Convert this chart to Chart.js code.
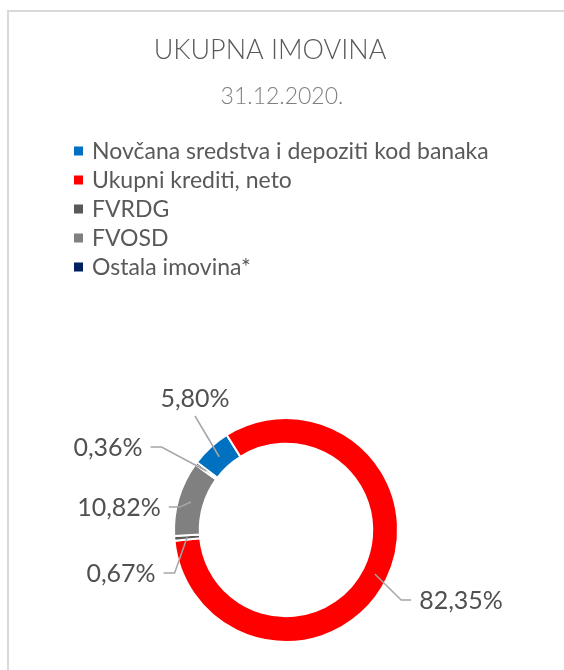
<!DOCTYPE html>
<html>
<head>
<meta charset="utf-8">
<script src="https://cdn.jsdelivr.net/npm/chart.js@4"></script>
<style>
  html, body { margin: 0; padding: 0; background: #fff; }
  #wrap { position: relative; width: 564px; height: 670px; overflow: hidden; }
  #frame { position: absolute; left: 7px; top: 10px; right: -10px; bottom: -10px;
           border-top: 2px solid #d9d9d9; border-left: 2px solid #d9d9d9; }
  canvas { position: absolute; left: 0; top: 0; }
</style>
</head>
<body>
<div id="wrap">
  <div id="frame"></div>
  <canvas id="assetChart" width="564" height="670"></canvas>
</div>
<script>
document.addEventListener('DOMContentLoaded', function () {

const chartTitle = 'UKUPNA IMOVINA';
const chartSubtitle = '31.12.2020.';
const categories = [
    'Novčana sredstva i depoziti kod banaka',
    'Ukupni krediti, neto',
    'FVRDG',
    'FVOSD',
    'Ostala imovina*'
];
const shares = [5.80, 82.35, 0.67, 10.82, 0.36];
const sliceColors = ['#0070C0', '#FF0000', '#595959', '#808080', '#002060'];

// where each percentage label sits, relative to the doughnut centre (slice order)
const labelSpots = [
    { dx: -91, dy: -132, side: 'bottom' },
    { dx: 175, dy: 70, side: 'left' },
    { dx: -165, dy: 43, side: 'right' },
    { dx: -167, dy: -23, side: 'right' },
    { dx: -178, dy: -83, side: 'right' }
];

const FONT = 'Lato, "Open Sans", sans-serif';

function formatShare(v) {
    return v.toFixed(2).replace('.', ',') + '%';
}

// title, subtitle and the legend column
const headerPlugin = {
    id: 'header',
    afterDraw(chart) {
        const ctx = chart.ctx;
        ctx.save();
        ctx.textBaseline = 'middle';
        ctx.textAlign = 'center';
        ctx.fillStyle = '#595959';
        ctx.font = '300 27px ' + FONT;
        ctx.fillText(chartTitle, 270, 50);
        ctx.fillStyle = '#7f7f7f';
        ctx.font = '300 23px ' + FONT;
        ctx.fillText(chartSubtitle, 282, 97);

        ctx.textAlign = 'left';
        ctx.font = '23px ' + FONT;
        const colors = chart.data.datasets[0].backgroundColor;
        chart.data.labels.forEach(function (label, i) {
            const y = 151 + i * 29;
            ctx.fillStyle = colors[i];
            ctx.fillRect(74, y - 4.5, 9, 9);
            ctx.fillStyle = '#595959';
            ctx.fillText(label, 92, y + 1);
        });
        ctx.restore();
    }
};

// percentage labels with leader lines, like Excel's best-fit labels
const sliceLabelPlugin = {
    id: 'sliceLabels',
    afterDatasetsDraw(chart) {
        const ctx = chart.ctx;
        const meta = chart.getDatasetMeta(0);
        ctx.save();
        ctx.font = '25px ' + FONT;
        ctx.textBaseline = 'middle';
        ctx.textAlign = 'center';
        meta.data.forEach(function (arc, i) {
            const spot = labelSpots[i];
            const text = formatShare(chart.data.datasets[0].data[i]);
            const tip = arc.tooltipPosition();
            const tx = arc.x + spot.dx;
            const ty = arc.y + spot.dy;
            const w = ctx.measureText(text).width;

            ctx.strokeStyle = '#a6a6a6';
            ctx.lineWidth = 1.5;
            ctx.beginPath();
            if (spot.side === 'bottom') {
                ctx.moveTo(tx, ty + 18);
            } else if (spot.side === 'right') {
                ctx.moveTo(tx + w / 2 + 8, ty);
                ctx.lineTo(tx + w / 2 + 19, ty);
            } else {
                ctx.moveTo(tx - w / 2 - 8, ty);
                ctx.lineTo(tx - w / 2 - 18, ty);
            }
            ctx.lineTo(tip.x, tip.y);
            ctx.stroke();

            ctx.fillStyle = '#505050';
            ctx.fillText(text, tx, ty + 1);
        });
        ctx.restore();
    }
};

const ctx = document.getElementById('assetChart').getContext('2d');
new Chart(ctx, {
    type: 'doughnut',
    data: {
        labels: categories,
        datasets: [{
            data: shares,
            backgroundColor: sliceColors,
            borderColor: '#ffffff',
            borderWidth: 2,
            hoverOffset: 0
        }]
    },
    options: {
        responsive: false,
        animation: false,
        rotation: -52.8,
        cutout: '77%',
        layout: {
            padding: { top: 417, bottom: 27, left: 20, right: 12 }
        },
        plugins: {
            legend: { display: false },
            title: { display: false },
            tooltip: { enabled: false }
        }
    },
    plugins: [headerPlugin, sliceLabelPlugin]
});

});
</script>
</body>
</html>
